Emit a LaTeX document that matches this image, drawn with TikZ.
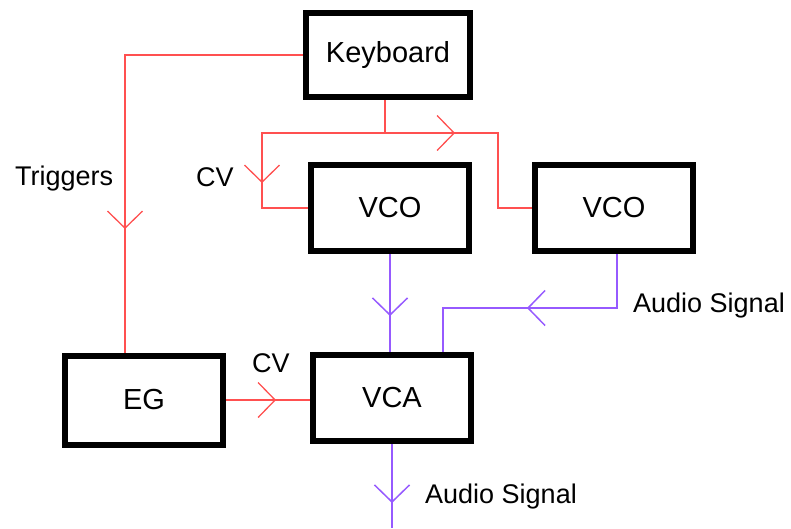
\documentclass[tikz,border=0pt]{standalone}
\usepackage{fontspec}
\setmainfont{Liberation Sans}
\usetikzlibrary{arrows.meta,decorations.markings}

\definecolor{cvred}{RGB}{255,80,80}
\definecolor{audiopurple}{RGB}{150,90,255}

\begin{document}
\begin{tikzpicture}[x=1pt,y=-1pt,
  box/.style={draw,line width=6pt,minimum width=158pt,minimum height=86pt,inner sep=0pt,font=\fontsize{29}{32}\selectfont},
  lbl/.style={font=\fontsize{27}{30}\selectfont,inner sep=0pt,anchor=base west},
  cvwire/.style={draw=cvred,line width=1.3pt},
  audiowire/.style={draw=audiopurple,line width=1.5pt},
  chev/.style={postaction={decorate},decoration={markings,
    mark=at position #1 with {\arrow{Straight Barb[length=17pt,width=35pt]}}}}]
\useasboundingbox (0,0) rectangle (791,528);

% --- modules ----------------------------------------------------------
\node[box,minimum width=164pt,minimum height=84pt] (kbd) at (388,55) {Keyboard};
\node[box] (vcoa) at (390,208) {VCO};
\node[box] (vcob) at (614,208) {VCO};
\node[box,minimum height=89pt] (eg) at (144,400) {EG};
\node[box] (vca) at (392,398) {VCA};

% --- control voltages and triggers ------------------------------------
\coordinate (split) at (385,133);
\draw[cvwire,chev=352pt] (kbd.west) -| ([xshift=-19pt]eg.north);
\draw[cvwire] (kbd.south -| split) -- (split);
\draw[cvwire,chev=173pt] (split) -| ([xshift=-46pt]vcoa.west) -- (vcoa.west);
\draw[cvwire,chev=70pt] (split) -| ([xshift=-34pt]vcob.west) -- (vcob.west);
\draw[cvwire,chev=50pt] (eg.east) -- (eg.east -| vca.west);

% --- audio path -------------------------------------------------------
\coordinate (mix) at (443,308);
\coordinate (out) at (vca.south |- 0,528);
\draw[audiowire,chev=62pt] (vcoa.south) -- (vcoa.south |- vca.north);
\draw[audiowire,chev=144pt] ([xshift=3pt]vcob.south) |- (mix) -- (mix |- vca.north);
\draw[audiowire,chev=59pt] (vca.south) -- (out);

% --- labels -----------------------------------------------------------
\node[lbl] (trig) at (15,185) {Triggers};
\node[lbl] (cva) at (196,186) {CV};
\node[lbl] (cvb) at (252,372) {CV};
\node[lbl] (auda) at (633,312) {Audio Signal};
\node[lbl] (audb) at (425,503) {Audio Signal};
\end{tikzpicture}
\end{document}
